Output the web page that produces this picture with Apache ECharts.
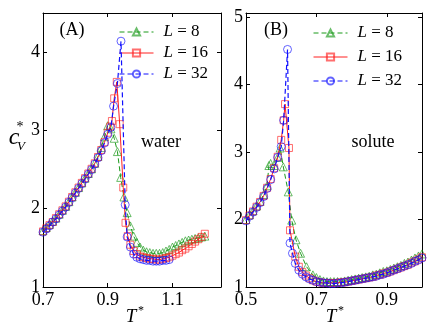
<!DOCTYPE html>
<html>
<head>
<meta charset="utf-8">
<script src="https://cdn.jsdelivr.net/npm/echarts@6/dist/echarts.min.js"></script>
<style>
  html, body { margin: 0; padding: 0; background: #fff; }
  #chart { width: 436px; height: 327px; }
</style>
</head>
<body>
<div id="chart"></div>
<script>
// panel (A) water
const tA8 = [0.70,0.71,0.72,0.73,0.74,0.75,0.76,0.77,0.78,0.79,0.80,0.81,0.82,0.83,0.84,0.85,0.86,0.87,0.88,0.89,0.90,0.91,0.92,0.93,0.94,0.95,0.96,0.97,0.98,0.99,1.00,1.01,1.02,1.03,1.04,1.05,1.06,1.07,1.08,1.09,1.10,1.11,1.12,1.13,1.14,1.15,1.16,1.17,1.18,1.19,1.20];
const cA8 = [1.72,1.76,1.80,1.84,1.88,1.93,1.98,2.03,2.09,2.15,2.21,2.27,2.33,2.39,2.45,2.51,2.58,2.67,2.78,2.92,3.06,3.02,2.90,2.73,2.40,2.15,1.95,1.78,1.65,1.57,1.51,1.47,1.45,1.44,1.43,1.43,1.43,1.44,1.46,1.48,1.51,1.53,1.55,1.57,1.59,1.60,1.61,1.62,1.63,1.64,1.65];

const tA16 = [0.70,0.71,0.72,0.73,0.74,0.75,0.76,0.77,0.78,0.79,0.80,0.81,0.82,0.83,0.84,0.85,0.86,0.87,0.88,0.89,0.90,0.908,0.913,0.92,0.928,0.937,0.948,0.955,0.962,0.97,0.98,0.99,1.00,1.01,1.02,1.03,1.04,1.05,1.06,1.07,1.08,1.09,1.10,1.11,1.12,1.13,1.14,1.15,1.16,1.17,1.18,1.19,1.20];
const cA16 = [1.71,1.75,1.79,1.83,1.88,1.93,1.98,2.03,2.09,2.15,2.21,2.27,2.33,2.39,2.45,2.51,2.58,2.66,2.75,2.85,2.97,3.05,3.12,3.41,3.62,3.08,2.27,1.82,1.65,1.54,1.46,1.42,1.39,1.38,1.37,1.36,1.36,1.35,1.35,1.36,1.37,1.38,1.40,1.42,1.44,1.47,1.49,1.52,1.55,1.58,1.61,1.64,1.68];

const tA32 = [0.70,0.71,0.72,0.73,0.74,0.75,0.76,0.77,0.78,0.79,0.80,0.81,0.82,0.83,0.84,0.85,0.86,0.87,0.88,0.89,0.90,0.91,0.918,0.93,0.941,0.954,0.96,0.97,0.98,0.99,1.00,1.01,1.02,1.03,1.04,1.05,1.06,1.07,1.08,1.09];
const cA32 = [1.70,1.74,1.78,1.83,1.87,1.92,1.97,2.02,2.08,2.14,2.20,2.26,2.32,2.38,2.44,2.50,2.57,2.65,2.74,2.84,2.95,3.04,3.31,3.60,4.14,2.05,1.64,1.51,1.42,1.38,1.36,1.35,1.34,1.34,1.33,1.33,1.33,1.34,1.34,1.35];

// panel (B) solute
const tB8 = [0.50,0.51,0.52,0.53,0.54,0.55,0.56,0.565,0.57,0.58,0.59,0.597,0.606,0.62,0.63,0.642,0.655,0.672,0.69,0.70,0.71,0.72,0.73,0.74,0.75,0.76,0.77,0.78,0.79,0.80,0.81,0.82,0.83,0.84,0.85,0.86,0.87,0.88,0.89,0.90,0.91,0.92,0.93,0.94,0.95,0.96,0.97,0.98,0.99,1.00];
const cB8 = [2.00,2.07,2.13,2.20,2.27,2.37,2.50,2.80,2.83,2.80,2.92,3.06,2.78,2.41,1.99,1.70,1.50,1.30,1.18,1.14,1.11,1.09,1.08,1.08,1.08,1.08,1.08,1.09,1.10,1.11,1.12,1.13,1.14,1.15,1.16,1.18,1.19,1.21,1.23,1.24,1.26,1.28,1.30,1.32,1.35,1.37,1.40,1.43,1.46,1.49];

const tB16 = [0.50,0.51,0.52,0.53,0.54,0.55,0.56,0.57,0.58,0.59,0.60,0.607,0.611,0.622,0.625,0.64,0.65,0.66,0.67,0.68,0.69,0.70,0.71,0.72,0.73,0.74,0.75,0.76,0.77,0.78,0.79,0.80,0.81,0.82,0.83,0.84,0.85,0.86,0.87,0.88,0.89,0.90,0.91,0.92,0.93,0.94,0.95,0.96,0.97,0.98,0.99,1.00];
const cB16 = [1.99,2.06,2.12,2.19,2.26,2.35,2.47,2.60,2.76,2.93,3.18,3.47,3.71,3.06,1.84,1.45,1.30,1.22,1.17,1.13,1.10,1.08,1.07,1.06,1.06,1.06,1.06,1.06,1.07,1.07,1.08,1.09,1.10,1.11,1.12,1.13,1.14,1.15,1.17,1.18,1.20,1.21,1.23,1.25,1.27,1.29,1.31,1.33,1.36,1.38,1.41,1.44];

const tB32 = [0.50,0.51,0.52,0.53,0.54,0.55,0.56,0.57,0.58,0.59,0.60,0.607,0.618,0.625,0.632,0.64,0.65,0.66,0.67,0.68,0.69,0.70,0.71,0.72,0.73,0.74,0.75,0.76,0.77,0.78,0.79,0.80,0.81,0.82,0.83,0.84,0.85,0.86,0.87,0.88,0.89,0.90,0.91,0.92,0.93,0.94,0.95,0.96,0.97,0.98,0.99,1.00];
const cB32 = [1.98,2.05,2.11,2.18,2.25,2.34,2.46,2.59,2.75,2.92,3.08,3.47,4.52,1.65,1.50,1.35,1.25,1.19,1.15,1.12,1.10,1.08,1.07,1.06,1.06,1.05,1.05,1.06,1.06,1.07,1.08,1.09,1.10,1.11,1.12,1.13,1.14,1.15,1.16,1.18,1.19,1.21,1.23,1.25,1.27,1.29,1.31,1.33,1.35,1.38,1.40,1.43];

const seriesNames = ['L = 8', 'L = 16', 'L = 32'];
const xTicksA = [0.7, 1.25];
const yTicksA = [1, 4.5];
const xTicksB = [0.5, 1.0];
const yTicksB = [1, 5.06];

const FONT = 'Liberation Serif';
const zip = (xs, ys) => xs.map((x, i) => [x, ys[i]]);

const styles = [
  { symbol: 'triangle', symbolSize: 8, color: '#1a9a1a', type: [5, 3], width: 1 },
  { symbol: 'rect', symbolSize: 7, color: '#ff2020', type: 'solid', width: 1 },
  { symbol: 'circle', symbolSize: 8, color: '#1010ff', type: [5, 3], width: 1.2 }
];

function mkSeries(i, xi, yi, t, c) {
  const s = styles[i];
  return {
    name: seriesNames[i],
    type: 'line',
    xAxisIndex: xi,
    yAxisIndex: yi,
    data: zip(t, c),
    symbol: s.symbol,
    symbolSize: s.symbolSize,
    showAllSymbol: true,
    animation: false,
    lineStyle: { color: s.color, width: s.width, type: s.type },
    itemStyle: { color: 'rgba(255,255,255,0)', borderColor: s.color, borderWidth: 1, opacity: 0.65 },
    z: 2 + i
  };
}

function mkX(grid, ext, pos, labels) {
  return {
    type: 'value', gridIndex: grid, position: pos, min: ext[0], max: ext[1], interval: 0.2,
    axisLine: { show: true, onZero: false, lineStyle: { color: '#000', width: 1 } },
    axisTick: { show: true, inside: true, length: 4, lineStyle: { color: '#000' } },
    axisLabel: { show: labels, showMaxLabel: false, margin: 4, color: '#000', fontFamily: FONT, fontSize: 18,
      formatter: v => v.toFixed(1) },
    splitLine: { show: false }
  };
}

function mkY(grid, ext, pos, labels) {
  return {
    type: 'value', gridIndex: grid, position: pos, min: ext[0], max: ext[1], interval: 1,
    axisLine: { show: true, onZero: false, lineStyle: { color: '#000', width: 1 } },
    axisTick: { show: true, inside: true, length: 4, lineStyle: { color: '#000' } },
    axisLabel: { show: labels, showMaxLabel: false, margin: 3, color: '#000', fontFamily: FONT, fontSize: 18 },
    splitLine: { show: false }
  };
}

function mkLegend(left, top, gap) {
  return {
    left: left, top: top, orient: 'vertical', padding: 0, itemWidth: 34, itemHeight: 9, itemGap: gap,
    selectedMode: false, data: seriesNames,
    lineStyle: { width: 1 },
    formatter: n => '{i|L}' + n.slice(1),
    textStyle: { fontFamily: FONT, fontSize: 17, lineHeight: 18, color: '#000', padding: [0, 0, 0, 5],
      rich: { i: { fontFamily: FONT, fontSize: 17, lineHeight: 18, fontStyle: 'italic', color: '#000' } } }
  };
}

function txt(text, x, y, size, italic) {
  return { type: 'text', style: { text: text, x: x, y: y, fill: '#000', fontFamily: FONT, fontSize: size,
    fontStyle: italic ? 'italic' : 'normal', align: 'center', verticalAlign: 'middle' } };
}

const chart = echarts.init(document.getElementById('chart'), null, { renderer: 'canvas' });

const option = {
  backgroundColor: '#fff',
  animation: false,
  grid: [
    { left: 43, top: 13, width: 178, height: 274 },
    { left: 246, top: 13, width: 176, height: 274 }
  ],
  xAxis: [mkX(0, xTicksA, 'bottom', true), mkX(0, xTicksA, 'top', false),
          mkX(1, xTicksB, 'bottom', true), mkX(1, xTicksB, 'top', false)],
  yAxis: [mkY(0, yTicksA, 'left', true), mkY(0, yTicksA, 'right', false),
          mkY(1, yTicksB, 'left', true), mkY(1, yTicksB, 'right', false)],
  legend: [mkLegend(119, 23, 3), mkLegend(313, 24, 6)],
  series: [
    mkSeries(0, 0, 0, tA8, cA8), mkSeries(1, 0, 0, tA16, cA16), mkSeries(2, 0, 0, tA32, cA32),
    mkSeries(0, 2, 2, tB8, cB8), mkSeries(1, 2, 2, tB16, cB16), mkSeries(2, 2, 2, tB32, cB32)
  ],
  graphic: [
    txt('(A)', 72, 30, 18, false),
    txt('water', 161, 142, 18, false),
    txt('(B)', 276, 30, 18, false),
    txt('solute', 373, 142, 18, false),
    txt('c', 14, 138, 24, true),
    txt('*', 20, 127, 14, false),
    txt('V', 21, 147, 13, true),
    txt('T', 131, 317, 19, true),
    txt('*', 141, 311, 12, false),
    txt('T', 331, 317, 19, true),
    txt('*', 341, 311, 12, false)
  ]
};

chart.setOption(option);
</script>
</body>
</html>
